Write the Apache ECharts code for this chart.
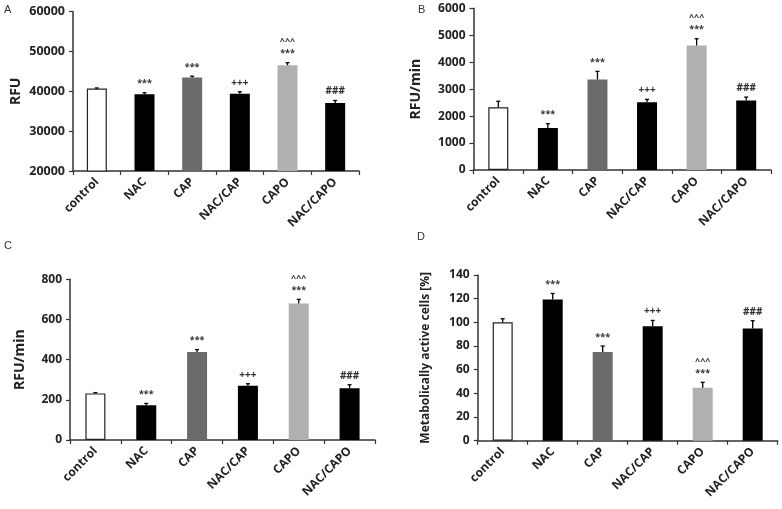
<!DOCTYPE html>
<html><head><meta charset="utf-8">
<script src="https://cdn.jsdelivr.net/npm/echarts@6/dist/echarts.min.js"></script>
<style>html,body{margin:0;padding:0;background:#fff}#c{width:782px;height:509px}</style>
</head><body><div id="c"></div>
<script>
const categories = ['control', 'NAC', 'CAP', 'NAC/CAP', 'CAPO', 'NAC/CAPO'];
const valuesA = [40700, 39250, 43450, 39400, 46550, 37050];
const errorsA = [150, 400, 350, 500, 650, 650];
const valuesB = [2330, 1560, 3360, 2510, 4620, 2580];
const errorsB = [220, 160, 300, 110, 250, 125];
const valuesC = [232, 173, 438, 270, 680, 258];
const errorsC = [4, 9, 12, 10, 20, 17];
const valuesD = [100, 119.4, 75, 96.6, 44.8, 94.9];
const errorsD = [3, 5, 5, 5, 4.5, 6.5];
const sigLower = ['', '***', '***', '+++', '***', '###'];
const sigUpper = ['', '', '', '', '^^^', ''];
const yNames = ['RFU', 'RFU/min', 'RFU/min', 'Metabolically active cells [%]'];
const yMin = [20000, 0, 0, 0];
const yMax = [60000, 6000, 800, 140];
const yStep = [10000, 1000, 200, 20];
const panelLetters = ['A', 'B', 'C', 'D'];

const barColors = ['#ffffff', '#000000', '#6b6b6b', '#000000', '#b0b0b0', '#000000'];
const FONT = '"Open Sans", "Liberation Sans", sans-serif';
const grids = [
  {left: 73, top: 11.7, width: 286, height: 159.3},
  {left: 473.5, top: 8.3, width: 297.5, height: 161.7},
  {left: 70, top: 279.3, width: 305, height: 160.7},
  {left: 477.7, top: 275, width: 300, height: 165.7}
];
const nameGaps = [50, 50, 43, 46];
const nameSizes = [14, 14, 14, 12];
const allValues = [valuesA, valuesB, valuesC, valuesD];
const allErrors = [errorsA, errorsB, errorsC, errorsD];

const xAxes = [], yAxes = [], series = [];
grids.forEach((g, k) => {
  xAxes.push({
    type: 'category', gridIndex: k, data: categories,
    axisLine: {lineStyle: {color: '#333', width: 1.5}},
    axisTick: {show: true, length: 4, inside: false, lineStyle: {color: '#333', width: 1.2}},
    axisLabel: {rotate: 45, interval: 0, margin: 9, fontFamily: FONT, fontWeight: 'bold', fontSize: 12, color: '#222'},
    splitLine: {show: false}
  });
  yAxes.push({
    type: 'value', gridIndex: k, min: yMin[k], max: yMax[k], interval: yStep[k],
    name: yNames[k], nameLocation: 'middle', nameGap: nameGaps[k],
    nameTextStyle: {fontFamily: FONT, fontWeight: 'bold', fontSize: nameSizes[k], color: '#222'},
    axisLine: {show: true, lineStyle: {color: '#333', width: 1.5}},
    axisTick: {show: true, length: 4, inside: false, lineStyle: {color: '#333', width: 1.2}},
    axisLabel: {margin: 8, fontFamily: FONT, fontWeight: 'bold', fontSize: k === 0 ? 12.5 : 12, color: '#222',
      formatter: function (v) { return String(v); }},
    splitLine: {show: false}
  });
  const vals = allValues[k], errs = allErrors[k];
  series.push({
    type: 'bar', xAxisIndex: k, yAxisIndex: k, barWidth: 20,
    data: vals.map((v, i) => ({
      value: v,
      itemStyle: {color: barColors[i], borderColor: i === 0 ? '#222' : barColors[i], borderWidth: i === 0 ? 1.2 : 0}
    })),
    silent: true, animation: false
  });
  series.push({
    type: 'custom', xAxisIndex: k, yAxisIndex: k, animation: false, silent: true, z: 5,
    data: vals.map((v, i) => [i, v, errs[i]]),
    renderItem: function (params, api) {
      const i = api.value(0), v = api.value(1), e = api.value(2);
      const base = api.coord([i, v]);
      const top = api.coord([i, v + e]);
      const ch = [
        {type: 'line', shape: {x1: base[0], y1: base[1], x2: top[0], y2: top[1]}, style: {stroke: '#000', lineWidth: 1.3}},
        {type: 'line', shape: {x1: top[0] - 2, y1: top[1], x2: top[0] + 2, y2: top[1]}, style: {stroke: '#000', lineWidth: 1.3}}
      ];
      const lo = sigLower[params.dataIndex], up = sigUpper[params.dataIndex];
      const loSize = lo === '***' ? 9 : 10;
      if (lo) ch.push({type: 'text', style: {text: lo, x: top[0], y: top[1] - 9, align: 'center', verticalAlign: 'middle',
        fontFamily: FONT, fontSize: loSize, fontWeight: 'bold', fill: '#333'}});
      if (up) ch.push({type: 'text', style: {text: up, x: top[0], y: top[1] - 21, align: 'center', verticalAlign: 'middle',
        fontFamily: FONT, fontSize: 9, fontWeight: 'bold', fill: '#333'}});
      return {type: 'group', children: ch};
    }
  });
});

const letterPos = [[4, 4], [418, 4], [4, 240], [417, 231]];
const chart = echarts.init(document.getElementById('c'), null, {renderer: 'canvas'});
chart.setOption({
  backgroundColor: '#ffffff',
  animation: false,
  grid: grids,
  xAxis: xAxes,
  yAxis: yAxes,
  series: series,
  graphic: panelLetters.map((t, k) => ({
    type: 'text', left: letterPos[k][0], top: letterPos[k][1],
    style: {text: t, fontFamily: '"Liberation Sans", Arial, sans-serif', fontSize: 11, fill: '#333'}
  }))
});
</script>
</body></html>
